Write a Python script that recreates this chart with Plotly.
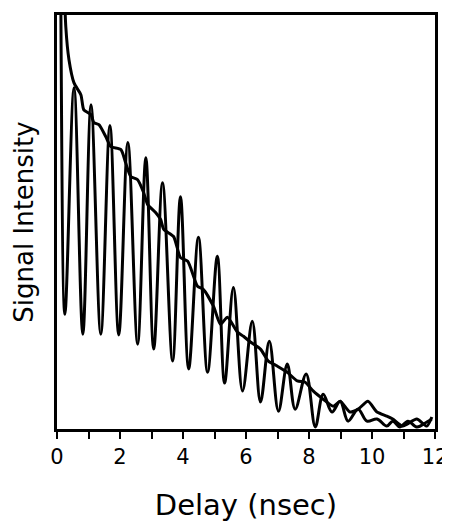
import plotly.graph_objects as go

# Oscillating trace (delay in ns, intensity in arbitrary units)
osc_t = [0.02, 0.08, 0.25, 0.54, 0.82, 1.08, 1.39, 1.68, 1.96, 2.25, 2.56, 2.82, 3.07, 3.35,
         3.67, 3.92, 4.18, 4.49, 4.78, 5.09, 5.32, 5.60, 5.89, 6.20, 6.46, 6.74, 7.03, 7.31,
         7.56, 7.91, 8.20, 8.45, 8.73, 8.99, 9.24, 9.56, 9.84, 10.16, 10.47, 10.66, 10.89,
         11.14, 11.42, 11.74, 11.90]
osc_v = [160, 140, 27.7, 82.4, 22.9, 78.3, 22.9, 73.3, 22.7, 69.2, 20.5, 65.5, 19.3, 59.5,
         16.4, 56.1, 14.5, 46.3, 13.7, 41.7, 11.1, 34.2, 9.2, 26.0, 6.5, 21.2, 4.3, 15.7,
         4.8, 13.3, 0.5, 8.4, 4.1, 6.7, 1.9, 4.8, 1.9, 2.4, 0.7, 1.9, 0.5,
         1.9, 0.5, 1.7, 2.4]

# Smooth decaying trace
dec_t = [0.10, 0.28, 0.38, 0.54, 0.76, 0.85, 1.08, 1.17, 1.33, 1.55, 1.71, 2.03, 2.18, 2.34,
         2.56, 2.75, 2.88, 3.13, 3.29, 3.39, 3.70, 3.92, 4.15, 4.46, 4.65, 4.97, 5.19, 5.41,
         5.73, 5.92, 6.14, 6.46, 6.71, 6.99, 7.31, 7.63, 7.88, 8.13, 8.45, 8.77, 8.99, 9.30,
         9.56, 9.87, 10.16, 10.47, 10.66, 10.98, 11.42, 11.74, 11.90]
dec_v = [140, 97.1, 89.2, 83.6, 80.7, 77.1, 75.9, 74.0, 73.5, 70.6, 68.2, 67.5, 64.3, 61.0,
         60.2, 57.1, 54.2, 52.3, 50.6, 48.2, 46.5, 41.4, 40.5, 34.5, 33.7, 29.6, 25.3, 27.0,
         23.4, 22.4, 21.0, 19.3, 16.4, 15.2, 13.7, 11.6, 11.3, 9.2, 7.2, 5.5, 6.7, 4.1,
         4.8, 6.7, 4.1, 3.1, 2.4, 0.7, 2.4, 0.7, 2.9]

tick_vals = list(range(0, 13))
tick_text = [str(v) if v % 2 == 0 else "" for v in tick_vals]

FONT = "DejaVu Sans"

fig = go.Figure()
fig.add_trace(go.Scatter(x=osc_t, y=osc_v, mode="lines",
                         line=dict(color="black", width=3, shape="spline", smoothing=1.0),
                         showlegend=False))
fig.add_trace(go.Scatter(x=dec_t, y=dec_v, mode="lines",
                         line=dict(color="black", width=3, shape="spline", smoothing=0.6),
                         showlegend=False))

# the page body adds an 8px offset, so the figure is sized to fill the rest of the window
fig.update_layout(
    template="none",
    width=442, height=514,
    margin=dict(l=49, r=15, t=7, b=93, autoexpand=False),
    paper_bgcolor="white", plot_bgcolor="white",
    font=dict(family=FONT, color="black"),
)
fig.update_xaxes(
    range=[0, 12], tickvals=tick_vals, ticktext=tick_text,
    ticks="outside", ticklen=7, tickwidth=2, tickcolor="black",
    showline=True, linecolor="black", linewidth=2.5, mirror=True,
    showgrid=False, zeroline=False, automargin=False,
    tickfont=dict(family=FONT, size=21),
    title=dict(text="Delay (nsec)", font=dict(family=FONT, size=29), standoff=29),
)
fig.update_yaxes(
    range=[0, 100], showticklabels=False, ticks="",
    showline=True, linecolor="black", linewidth=2.5, mirror=True,
    showgrid=False, zeroline=False, automargin=False,
    title=dict(text="Signal Intensity", font=dict(family=FONT, size=26), standoff=14),
)

fig.write_html("out.html")
